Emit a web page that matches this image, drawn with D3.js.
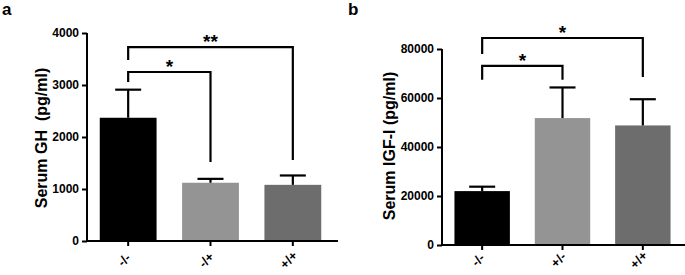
<!DOCTYPE html>
<html>
<head>
<meta charset="utf-8">
<script src="https://cdn.jsdelivr.net/npm/d3@7"></script>
<style>
  body { margin: 0; background: #fff; }
  svg { display: block; }
  text { font-family: "Liberation Sans", Arial, sans-serif; font-weight: bold; fill: #000; }
</style>
</head>
<body>
<div id="vizContainer"></div>
<script>
let w = 685;
let h = 275;

// panel a : serum GH
let groupsA = ["-/-", "-/+", "+/+"];
let ghMean = [2370, 1120, 1080];
let ghErr = [540, 75, 180];
let ghTicks = [0, 1000, 2000, 3000, 4000];
// brackets: [from, to, lineValue, leftLegEnd, rightLegEnd, label]
let ghBrackets = [
  [0, 1, 3250, 3060, 1520, "*"],
  [0, 2, 3730, 3480, 1560, "**"]
];

// panel b : serum IGF-I
let groupsB = ["-/-", "+/-", "+/+"];
let igfMean = [22000, 51800, 48800];
let igfErr = [1800, 12500, 10700];
let igfTicks = [0, 20000, 40000, 60000, 80000];
let igfBrackets = [
  [0, 1, 73100, 67400, 67400, "*"],
  [0, 2, 84500, 78000, 68600, "*"]
];

let barColors = ["#000000", "#949494", "#6d6d6d"];

let viz = d3.select('#vizContainer').append('svg')
  .attr('width', w)
  .attr('height', h)
  ;

function drawPanel(opt){
  let g = viz.append('g');

  let xScale = d3.scaleBand().domain(opt.groups).range([opt.x0, opt.x1]).paddingInner(0.31).paddingOuter(0.155);
  let yScale = d3.scaleLinear().domain([0, opt.max]).range([opt.y0, opt.y1]);

  // bars
  g.selectAll(".bar").data(opt.means).enter().append("rect")
    .attr("class", "bar")
    .attr("x", function(d, i){ return xScale(opt.groups[i]) })
    .attr("y", function(d){ return yScale(d) })
    .attr("width", xScale.bandwidth())
    .attr("height", function(d){ return yScale(0) - yScale(d) })
    .attr("fill", function(d, i){ return barColors[i] })
  ;

  // error bars, upward only
  let cx = function(i){ return xScale(opt.groups[i]) + xScale.bandwidth() / 2 };
  g.selectAll(".err").data(opt.means).enter().append("line")
    .attr("x1", function(d, i){ return cx(i) })
    .attr("x2", function(d, i){ return cx(i) })
    .attr("y1", function(d){ return yScale(d) })
    .attr("y2", function(d, i){ return yScale(d + opt.errs[i]) })
    .attr("stroke", "#000").attr("stroke-width", 2.2)
  ;
  g.selectAll(".cap").data(opt.means).enter().append("line")
    .attr("x1", function(d, i){ return cx(i) - 13 })
    .attr("x2", function(d, i){ return cx(i) + 13 })
    .attr("y1", function(d, i){ return yScale(d + opt.errs[i]) })
    .attr("y2", function(d, i){ return yScale(d + opt.errs[i]) })
    .attr("stroke", "#000").attr("stroke-width", 2.2)
  ;

  // y axis
  let yAxis = d3.axisLeft(yScale).tickValues(opt.ticks).tickSize(5).tickPadding(3).tickFormat(d3.format("d"));
  let ya = g.append("g").attr("transform", "translate(" + opt.x0 + ",0)").call(yAxis);
  ya.select(".domain").attr("d", "M0," + opt.y1 + "V" + opt.y0).attr("stroke-width", 2);
  ya.selectAll(".tick line").attr("stroke-width", 2);
  ya.selectAll("text").style("font-size", "12px").style("font-family", "'Liberation Sans', Arial, sans-serif").style("font-weight", "bold");

  // x axis
  let xAxis = d3.axisBottom(xScale).tickSize(5).tickFormat("");
  let xa = g.append("g").attr("transform", "translate(0," + opt.y0 + ")").call(xAxis);
  xa.select(".domain").attr("d", "M" + opt.x0 + ",0H" + opt.xEnd).attr("stroke-width", 2);
  xa.selectAll(".tick line").attr("stroke-width", 2);

  g.selectAll(".xlab").data(opt.groups).enter().append("text")
    .attr("transform", function(d){ return "translate(" + (xScale(d) + xScale.bandwidth() / 2 - 1) + ",263) rotate(-45)" })
    .attr("text-anchor", "middle")
    .style("font-size", "13px")
    .text(function(d){ return d })
  ;

  // significance brackets
  opt.brackets.forEach(function(b){
    let xa1 = cx(b[0]), xb1 = cx(b[1]);
    let yl = yScale(b[2]);
    g.append("path")
      .attr("d", "M" + xa1 + "," + yScale(b[3]) + "V" + yl + "H" + xb1 + "V" + yScale(b[4]))
      .attr("fill", "none").attr("stroke", "#000").attr("stroke-width", 2.2)
    ;
    g.append("text")
      .attr("x", (xa1 + xb1) / 2)
      .attr("y", yl + 1)
      .attr("text-anchor", "middle")
      .style("font-size", "19px")
      .text(b[5])
    ;
  });

  // y label
  g.append("text")
    .attr("transform", "translate(" + opt.labX + "," + opt.labY + ") rotate(-90)")
    .attr("text-anchor", "middle")
    .style("font-size", "16px")
    .text(opt.label)
  ;

  // panel letter
  g.append("text")
    .attr("x", opt.letterX).attr("y", 15)
    .style("font-size", "17px")
    .text(opt.letter)
  ;
}

drawPanel({
  groups: groupsA, means: ghMean, errs: ghErr, ticks: ghTicks, brackets: ghBrackets,
  max: 4000, x0: 87, x1: 334, xEnd: 338, y0: 241, y1: 33,
  label: "Serum GH\u00a0\u00a0(pg/ml)", labX: 47, labY: 138, letter: "a", letterX: 2
});

drawPanel({
  groups: groupsB, means: igfMean, errs: igfErr, ticks: igfTicks, brackets: igfBrackets,
  max: 80000, x0: 442, x1: 683, xEnd: 685, y0: 245, y1: 49,
  label: "Serum IGF-I (pg/ml)", labX: 395, labY: 146, letter: "b", letterX: 348
});
</script>
</body>
</html>
